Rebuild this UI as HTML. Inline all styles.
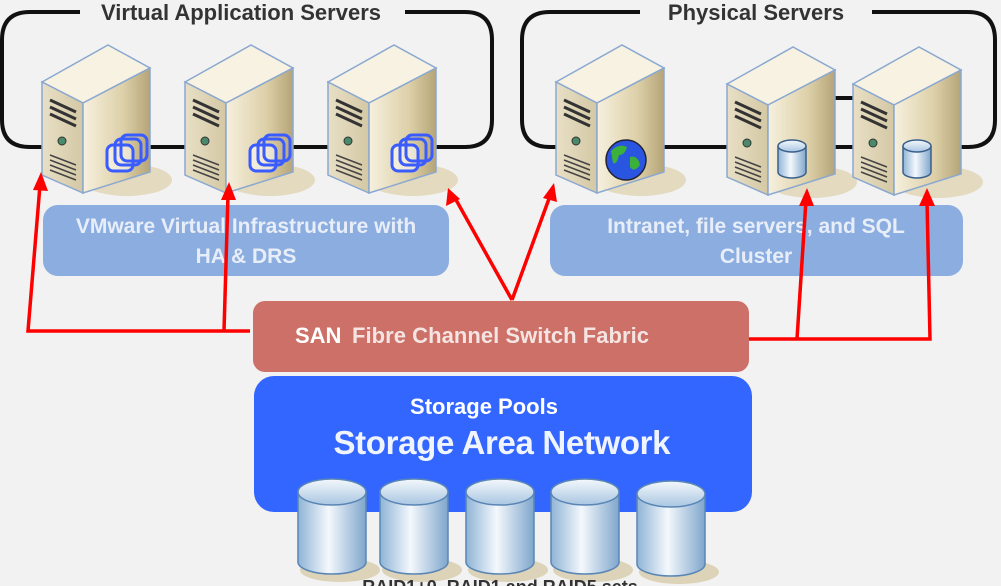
<!DOCTYPE html>
<html><head><meta charset="utf-8"><style>
html,body{margin:0;padding:0;background:#f2f2f2;}
svg{display:block;font-family:"Liberation Sans",sans-serif;}
</style></head><body>
<svg width="1001" height="586" viewBox="0 0 1001 586" xmlns="http://www.w3.org/2000/svg">
<defs>
<linearGradient id="front" x1="0" y1="0" x2="1" y2="0"><stop offset="0" stop-color="#e8dfc6"/><stop offset="1" stop-color="#d4c8a4"/></linearGradient>
<linearGradient id="side" x1="0" y1="0" x2="1" y2="0"><stop offset="0" stop-color="#f6f0de"/><stop offset="0.6" stop-color="#ddd0a8"/><stop offset="1" stop-color="#b5a478"/></linearGradient>
<linearGradient id="cyl" x1="0" y1="0" x2="1" y2="0"><stop offset="0" stop-color="#8fb4d6"/><stop offset="0.45" stop-color="#f4f8fc"/><stop offset="1" stop-color="#7fa6cc"/></linearGradient>
<linearGradient id="ctop" x1="0" y1="0" x2="0" y2="1"><stop offset="0" stop-color="#f4f8fc"/><stop offset="1" stop-color="#a9c6e2"/></linearGradient>
<g id="srv">
<ellipse cx="85" cy="135" rx="45" ry="16" fill="#e3dac0"/>
<polygon points="0,37 66,0 108,23 41,58" fill="#f7f2e2" stroke="#8aa8d0" stroke-width="1.5"/>
<polygon points="0,37 41,58 41,148 0,130" fill="url(#front)" stroke="#8aa8d0" stroke-width="1.5"/>
<polygon points="41,58 108,23 108,127 41,148" fill="url(#side)" stroke="#8aa8d0" stroke-width="1.5"/>
<path d="M8,55 l26,12 M8,62 l26,12 M8,69 l26,12" stroke="#333" stroke-width="3"/>
<circle cx="20" cy="96" r="4" fill="#4a8a6a" stroke="#333"/>
<path d="M8,110 l26,10 M8,115 l26,10 M8,120 l26,10 M8,125 l26,10" stroke="#444" stroke-width="1.5"/>
</g>
<g id="vm" fill="none" stroke="#3a5cff" stroke-width="3">
<rect x="0" y="10" width="26" height="26" rx="6" fill="#fff" fill-opacity="0.5"/>
<rect x="8" y="4" width="26" height="26" rx="6"/>
<rect x="14" y="0" width="26" height="26" rx="6"/>
</g>
<g id="db">
<path d="M0,6 v26 a14,6 0 0 0 28,0 v-26" fill="url(#cyl)" stroke="#3a5f8a" stroke-width="1.5"/>
<ellipse cx="14" cy="6" rx="14" ry="6" fill="url(#ctop)" stroke="#3a5f8a" stroke-width="1.5"/>
</g>
<g id="big">
<ellipse cx="42" cy="92" rx="40" ry="12" fill="#dcd3b8"/><path d="M0,14 v70 a34,12 0 0 0 68,0 v-70" fill="url(#cyl)" stroke="#5a86b5" stroke-width="1.5"/><ellipse cx="34" cy="14" rx="34" ry="13" fill="url(#ctop)" stroke="#5a86b5" stroke-width="1.5"/>
</g>
</defs>
<!-- brackets -->
<path d="M80,12 H30 Q2,12 2,40 V120 Q2,147 30,147 H465 Q492,147 492,120 V40 Q492,12 465,12 H405" fill="none" stroke="#111" stroke-width="4"/>
<path d="M640,12 H550 Q522,12 522,40 V120 Q522,147 550,147 H968 Q995,147 995,120 V40 Q995,12 968,12 H872" fill="none" stroke="#111" stroke-width="4"/>
<line x1="820" y1="98" x2="860" y2="98" stroke="#111" stroke-width="4"/>
<text x="241" y="20" font-size="22" font-weight="bold" fill="#333" text-anchor="middle">Virtual Application Servers</text>
<text x="756" y="20" font-size="22" font-weight="bold" fill="#333" text-anchor="middle">Physical Servers</text>
<!-- servers -->
<use href="#srv" x="42" y="45"/>
<use href="#srv" x="185" y="45"/>
<use href="#srv" x="328" y="45"/>
<use href="#vm" x="107" y="135"/>
<use href="#vm" x="250" y="135"/>
<use href="#vm" x="392" y="135"/>
<use href="#srv" x="556" y="45"/>
<use href="#srv" x="727" y="47"/>
<use href="#srv" x="853" y="47"/>
<circle cx="626" cy="160" r="20" fill="#2a55e0" stroke="#223" stroke-width="1.5"/>
<path d="M611,151 q8,-8 16,-4 q-2,8 -8,8 q-2,10 -6,8 z M630,157 q8,-2 10,8 q-6,8 -10,2 z" fill="#3bb03b"/>
<use href="#db" x="778" y="140"/>
<use href="#db" x="903" y="140"/>
<!-- label boxes -->
<rect x="43" y="205" width="406" height="71" rx="15" fill="#8cade0"/>
<text x="246" y="233" font-size="21" font-weight="bold" fill="#e8eef8" text-anchor="middle">VMware Virtual Infrastructure with</text>
<text x="246" y="263" font-size="21" font-weight="bold" fill="#e8eef8" text-anchor="middle">HA &amp; DRS</text>
<rect x="550" y="205" width="413" height="71" rx="15" fill="#8cade0"/>
<text x="756" y="233" font-size="21" font-weight="bold" fill="#e8eef8" text-anchor="middle">Intranet, file servers, and SQL</text>
<text x="756" y="263" font-size="21" font-weight="bold" fill="#e8eef8" text-anchor="middle">Cluster</text>
<!-- SAN -->
<rect x="253" y="301" width="496" height="71" rx="12" fill="#cc7068"/>
<text x="295" y="343" font-size="22" font-weight="bold" fill="#fff">SAN</text>
<text x="352" y="343" font-size="22" font-weight="bold" fill="#f4e4e2" textLength="297">Fibre Channel Switch Fabric</text>
<rect x="254" y="376" width="498" height="136" rx="20" fill="#3366ff"/>
<text x="484" y="414" font-size="22" font-weight="bold" fill="#fff" text-anchor="middle">Storage Pools</text>
<text x="502" y="454" font-size="33" font-weight="bold" fill="#f0f4ff" text-anchor="middle" textLength="337">Storage Area Network</text>
<!-- cylinders -->
<use href="#big" x="298" y="478"/>
<use href="#big" x="380" y="478"/>
<use href="#big" x="466" y="478"/>
<use href="#big" x="551" y="478"/>
<use href="#big" x="637" y="480"/>
<text x="500" y="593" font-size="18" font-weight="bold" fill="#333" text-anchor="middle">RAID1+0, RAID1 and RAID5 sets</text>
<!-- red arrows -->
<g stroke="#ff0000" stroke-width="3.5" fill="none">
<path d="M250,331 H28 L40,185"/>
<path d="M224,331 L228,195"/>
<path d="M512,300 L455,198 M512,300 L550,196"/>
<path d="M749,339 H930 L927,200"/>
<path d="M797,339 L806,200"/>
</g>
<g fill="#ff0000">
<polygon points="41,172 33,190 48,191"/>
<polygon points="229,182 221,200 236,200"/>
<polygon points="448,188 446,206 460,199"/>
<polygon points="554,183 543,198 557,202"/>
<polygon points="807,188 799,206 814,206"/>
<polygon points="927,188 919,206 935,206"/>
</g>
</svg>
</body></html>
